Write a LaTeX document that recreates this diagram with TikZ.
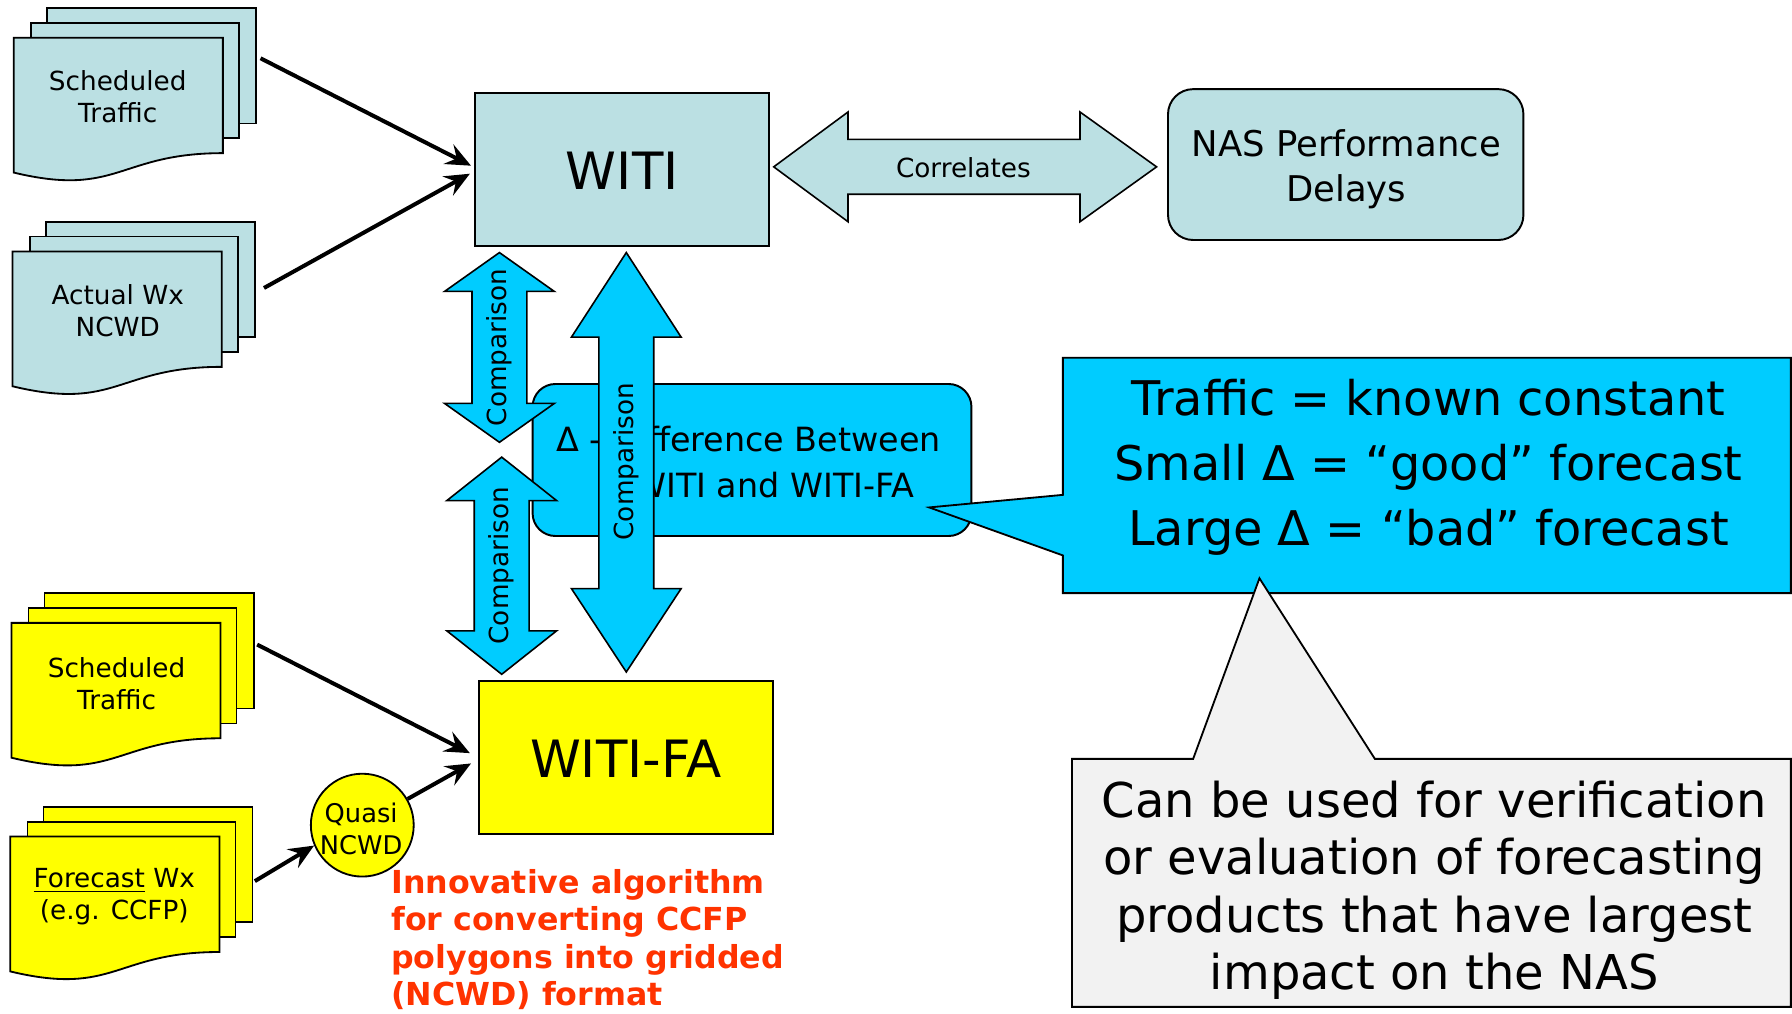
\documentclass[tikz,border=0pt]{standalone}
\usepackage{fontspec}
\setmainfont{DejaVu Sans}
\usetikzlibrary{arrows.meta,calc}
\definecolor{tealA}{RGB}{187,224,227}
\definecolor{cyanA}{RGB}{0,204,255}
\definecolor{greyA}{RGB}{242,242,242}
\definecolor{yelA}{RGB}{255,255,0}
\definecolor{redA}{RGB}{255,51,0}
\newcommand{\docstack}[2]{%
  \begin{scope}[shift={#1}]
    \draw[sheet,fill=#2] (29,-26) rectangle (212,75);
    \draw[sheet,fill=#2] (15,-13) rectangle (197,88);
    \draw[sheet,fill=#2] (0,0) -- (183,0) -- (183,101) .. controls (91.5,101) and (91.5,140) .. (0,118) -- cycle;
  \end{scope}}
\tikzset{
  sheet/.style={draw=black,line width=0.8pt,line join=miter},
  doctext/.style={align=center,inner sep=0pt,font=\fontsize{11.5}{14}\selectfont},
  conn/.style={draw=black,line width=1.75pt,-{Stealth[length=11pt,width=9.5pt,inset=4pt]}},
  tealbox/.style={draw=black,line width=0.85pt,fill=tealA,inner sep=0pt},
  blockarr/.style={draw=black,line width=0.7pt,line join=miter},
  cmptext/.style={rotate=90,inner sep=0pt,font=\fontsize{11.5}{14}\selectfont},
  bigtext/.style={inner sep=0pt,font=\fontsize{22.5}{27}\selectfont},
  calloutA/.style={draw=black,line width=0.8pt,line join=miter},
}
\begin{document}
\begin{tikzpicture}[x=0.5pt,y=-0.5pt]
\useasboundingbox (0,0) rectangle (1568,887);
\fill[white] (0,0) rectangle (1568,887);

% document stacks
\docstack{(12,33)}{tealA}
\docstack{(11,220)}{tealA}
\docstack{(10,545)}{yelA}
\docstack{(9,732)}{yelA}
\node[doctext] (st1) at (103,84.5) {Scheduled\\Traffic};
\node[doctext] (st2) at (103,271.5) {Actual Wx\\NCWD};
\node[doctext] (st3) at (102,598) {Scheduled\\Traffic};
\node[doctext] (st4) at (100,785) {\underline{Forecast} Wx\\(e.g. CCFP)};
\coordinate (o1) at (228,51);
\coordinate (o2) at (231,252);
\coordinate (o3) at (225,564);
\coordinate (o4) at (223,771);

% main boxes
\node[tealbox,minimum width=128.5pt,minimum height=67pt] (witi) at (544.5,148) {};
\node[bigtext] (witit) at (544.5,149) {WITI};
\node[tealbox,rounded corners=11pt,minimum width=155.5pt,minimum height=66pt] (nas) at (1177.5,144) {};
\node[align=center,inner sep=0pt,font=\fontsize{15.5}{19.5}\selectfont] (nast) at (1178,148) {NAS Performance\\Delays};
\node[draw=black,line width=0.85pt,fill=yelA,minimum width=128.5pt,minimum height=67pt,inner sep=0pt] (witifa) at (547.5,663) {};
\node[bigtext] (witifat) at (547.5,664) {WITI-FA};

% correlates arrow
\draw[blockarr,fill=tealA] (677,146) -- (742,98) -- (742,122) -- (945,122) -- (945,98) -- (1012,146) -- (945,194) -- (945,170) -- (742,170) -- (742,194) -- cycle;
\node[inner sep=0pt,font=\fontsize{11.5}{14}\selectfont] (corr) at (843,147) {Correlates};

% delta box
\node[draw=black,line width=0.85pt,fill=cyanA,rounded corners=10pt,minimum width=192pt,minimum height=66.5pt,inner sep=0pt] (delta) at (658,402.5) {};
\node[align=center,inner sep=0pt,font=\fontsize{14.6}{20}\selectfont] (deltat) at (655,404) {Δ - Difference Between\\\hspace*{22pt}WITI and WITI-FA};

% comparison arrows
\draw[blockarr,fill=cyanA] (437,221) -- (485,255) -- (461,255) -- (461,353) -- (485,353) -- (437,387) -- (389,353) -- (413,353) -- (413,255) -- (389,255) -- cycle;
\node[cmptext] (cmp1) at (437,304) {Comparison};
\draw[blockarr,fill=cyanA] (439,400) -- (487,438) -- (463,438) -- (463,552) -- (487,552) -- (439,590) -- (391,552) -- (415,552) -- (415,438) -- (391,438) -- cycle;
\node[cmptext] (cmp2) at (439,495) {Comparison};
\draw[blockarr,fill=cyanA] (548,221) -- (596,295) -- (572,295) -- (572,515) -- (596,515) -- (548,588) -- (500,515) -- (524,515) -- (524,295) -- (500,295) -- cycle;
\node[cmptext] (cmp3) at (548,404) {Comparison};

% blue callout
\draw[calloutA,fill=cyanA] (930,313) -- (1567,313) -- (1567,519) -- (930,519) -- (930,486) -- (813,444) -- (930,433) -- cycle;
\node[align=center,inner sep=0pt,font=\fontsize{20.9}{28.5}\selectfont] (cb) at (1250,409) {Traffic = known constant\\Small Δ = “good” forecast\\Large Δ = “bad” forecast};

% grey callout
\draw[calloutA,fill=greyA] (938,664) -- (1044,664) -- (1102,506) -- (1203,664) -- (1567,664) -- (1567,881) -- (938,881) -- cycle;
\node[align=center,inner sep=0pt,font=\fontsize{21}{25.2}\selectfont] (gc) at (1255,779) {Can be used for verification\\or evaluation of forecasting\\products that have largest\\impact on the NAS};

% quasi NCWD
\node[circle,draw=black,line width=0.8pt,fill=yelA,minimum size=45pt,inner sep=0pt] (quasi) at (317,722) {};
\node[align=center,inner sep=0pt,font=\fontsize{11.25}{14}\selectfont] (quasit) at (316,725) {Quasi\\NCWD};

% connectors
\draw[conn] (o1) -- ($(witi.west)+(-3,-3)$);
\draw[conn] (o2) -- ($(witi.west)+(-4,4)$);
\draw[conn] (o3) -- ($(witifa.west)+(-7,-4)$);
\draw[conn] (quasi.30) -- ($(witifa.west)+(-6,5)$);
\draw[conn] (o4) -- (quasi.203);

% red note
\node[anchor=west,align=left,inner sep=0pt,text=redA,font=\bfseries\fontsize{13.85}{16.3}\selectfont] (note) at (342,822) {Innovative algorithm\\for converting CCFP\\polygons into gridded\\(NCWD) format};
\end{tikzpicture}
\end{document}
